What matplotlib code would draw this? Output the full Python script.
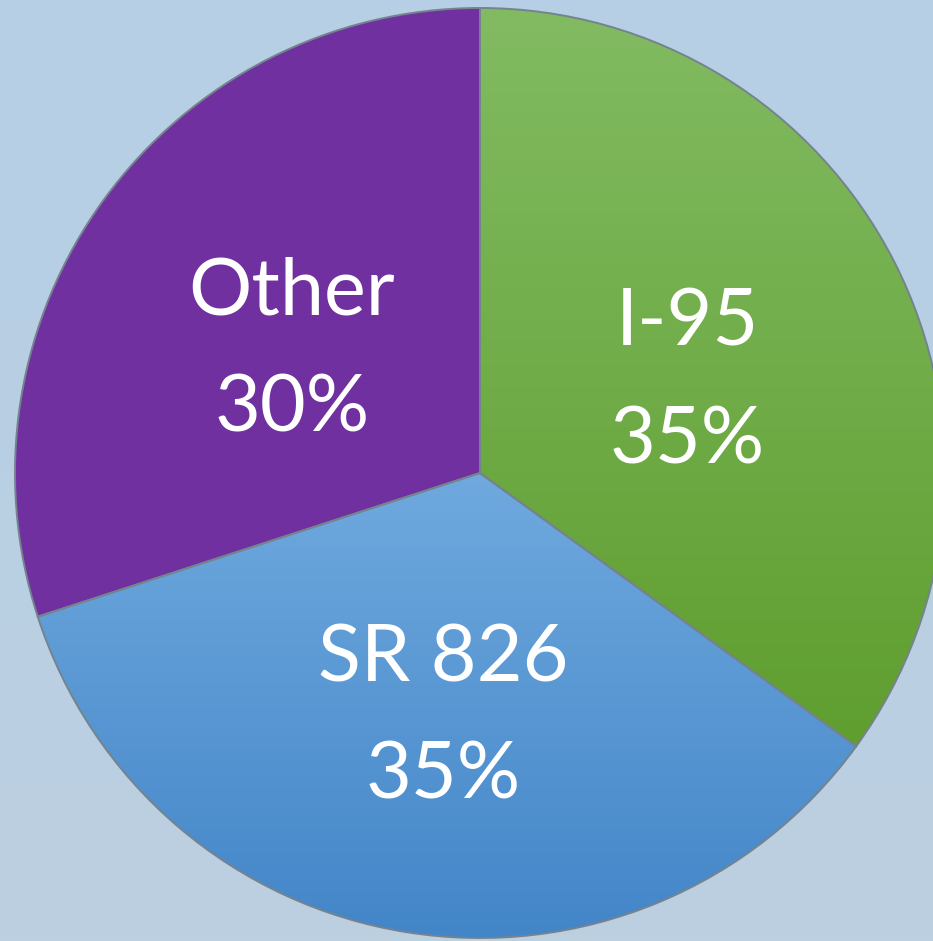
import numpy as np
import matplotlib
matplotlib.use("Agg")
import matplotlib.pyplot as plt
from matplotlib.colors import to_rgb

# data
names = ["I-95", "SR 826", "Other"]
shares = [35, 35, 30]
top_colors = ["#82bb62", "#6fa9de", "#7030a0"]
bottom_colors = ["#5f9e2f", "#4285c8", "#7030a0"]

W, H = 933, 941
fig = plt.figure(figsize=(W / 100, H / 100), dpi=100)
fig.patch.set_facecolor("#b9d0e4")
ax = fig.add_axes([0, 0, 1, 1])
ax.set_facecolor("#b9d0e4")

# soft background shading
bg = np.linspace(0, 1, 200)[:, None] * np.ones((1, 200))
bg_rgb = np.zeros((200, 200, 3))
c1, c2 = np.array(to_rgb("#b6cfe6")), np.array(to_rgb("#bcd0e0"))
for k in range(3):
    bg_rgb[:, :, k] = c1[k] + (c2[k] - c1[k]) * bg
ax.imshow(bg_rgb, extent=(0, W, 0, H), origin="upper", zorder=0, aspect="auto")

cx, cy, r = 480, 941 - 473, 465


def fmt(pct):
    i = fmt.i
    fmt.i += 1
    return f"{names[i]}\n{pct:.0f}%"


fmt.i = 0

wedges, texts, autotexts = ax.pie(
    shares, center=(cx, cy), radius=r, startangle=90, counterclock=False,
    colors=top_colors, autopct=fmt, pctdistance=0.5,
    wedgeprops=dict(edgecolor="#75838f", linewidth=1.4),
    textprops=dict(color="white", fontsize=57, family="Lato",
                   linespacing=1.78, ha="center", va="center"),
    frame=True)

# vertical gradient fill per wedge
for w, ct, cb in zip(wedges, top_colors, bottom_colors):
    path = w.get_path()
    verts = path.vertices
    y0, y1 = verts[:, 1].min(), verts[:, 1].max()
    x0, x1 = verts[:, 0].min(), verts[:, 0].max()
    t = np.linspace(0, 1, 256)[:, None]
    a, b = np.array(to_rgb(ct)), np.array(to_rgb(cb))
    grad = (a + (b - a) * t)[:, None, :]
    im = ax.imshow(grad, extent=(x0, x1, y0, y1), origin="upper",
                   aspect="auto", zorder=w.get_zorder() + 0.1)
    im.set_clip_path(w)
    w.set_facecolor("none")
    w.set_zorder(w.get_zorder() + 0.2)

for t in autotexts:
    x, y = t.get_position()
    t.set_position((x, y - 15))
    t.set_zorder(5)

ax.set_xlim(0, W)
ax.set_ylim(0, H)
ax.set_aspect("equal")
ax.axis("off")

fig.savefig("out.png", dpi=100, facecolor=fig.get_facecolor())
